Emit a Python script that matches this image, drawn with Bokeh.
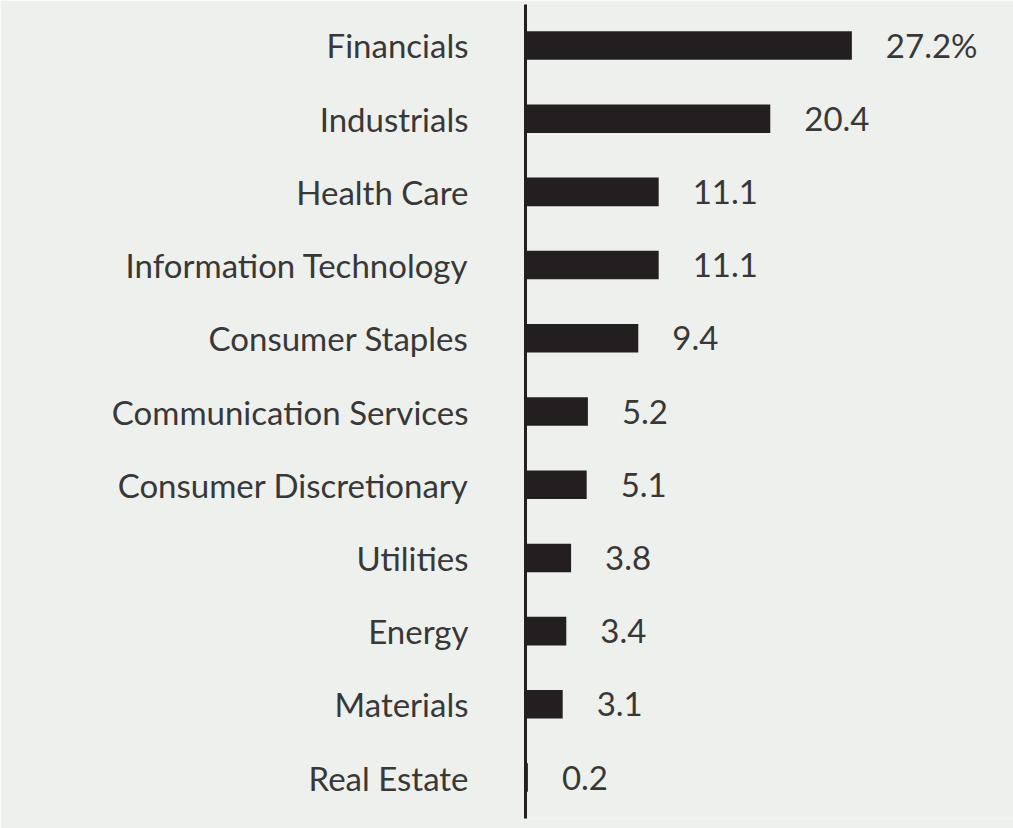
from bokeh.plotting import figure
from bokeh.models import ColumnDataSource, LabelSet, Range1d, FixedTicker
from bokeh.core.properties import value
from bokeh.embed import file_html
from bokeh.resources import INLINE

categories = ["Financials", "Industrials", "Health Care", "Information Technology",
              "Consumer Staples", "Communication Services", "Consumer Discretionary",
              "Utilities", "Energy", "Materials", "Real Estate"]
values = [27.2, 20.4, 11.1, 11.1, 9.4, 5.2, 5.1, 3.8, 3.4, 3.1, 0.2]
value_labels = ["27.2%", "20.4", "11.1", "11.1", "9.4", "5.2", "5.1", "3.8", "3.4", "3.1", "0.2"]

BG = "#eef0ee"
INK = "#231f20"
TXT = "#383838"
FONT = "Lato"

n = len(categories)
pos = list(range(n))
src = ColumnDataSource(dict(pos=pos, cat=categories, val=values, lab=value_labels))

p = figure(width=1013, height=828, output_backend="svg", toolbar_location=None,
           y_range=Range1d(n - 1 + 0.56, -0.56),
           x_range=Range1d(0, 40.67),
           min_border_left=525, min_border_right=0, min_border_top=4, min_border_bottom=10,
           background_fill_color=BG, border_fill_color=BG, outline_line_color=None)

p.hbar(y="pos", right="val", left=0, height=0.39, source=src,
       fill_color=INK, line_color=None)

labels = LabelSet(x="val", y="pos", text="lab", source=src, x_offset=34,
                  text_align="left", text_baseline="middle",
                  text_font=value(FONT), text_font_size="33px", text_color=TXT)
p.add_layout(labels)

p.xaxis.visible = False
p.xgrid.visible = False
p.ygrid.visible = False

ax = p.yaxis[0]
ax.ticker = FixedTicker(ticks=pos)
ax.major_label_overrides = {i: c for i, c in zip(pos, categories)}
ax.axis_line_color = INK
ax.axis_line_width = 3
ax.major_tick_line_color = None
ax.minor_tick_line_color = None
ax.major_tick_out = 0
ax.major_tick_in = 0
ax.major_label_standoff = 57
ax.major_label_text_font = FONT
ax.major_label_text_font_size = "33px"
ax.major_label_text_color = TXT

html = file_html(p, INLINE)
html = html.replace("<body>", '<body style="background:%s">' % BG, 1)
open("out.html", "w").write(html)
